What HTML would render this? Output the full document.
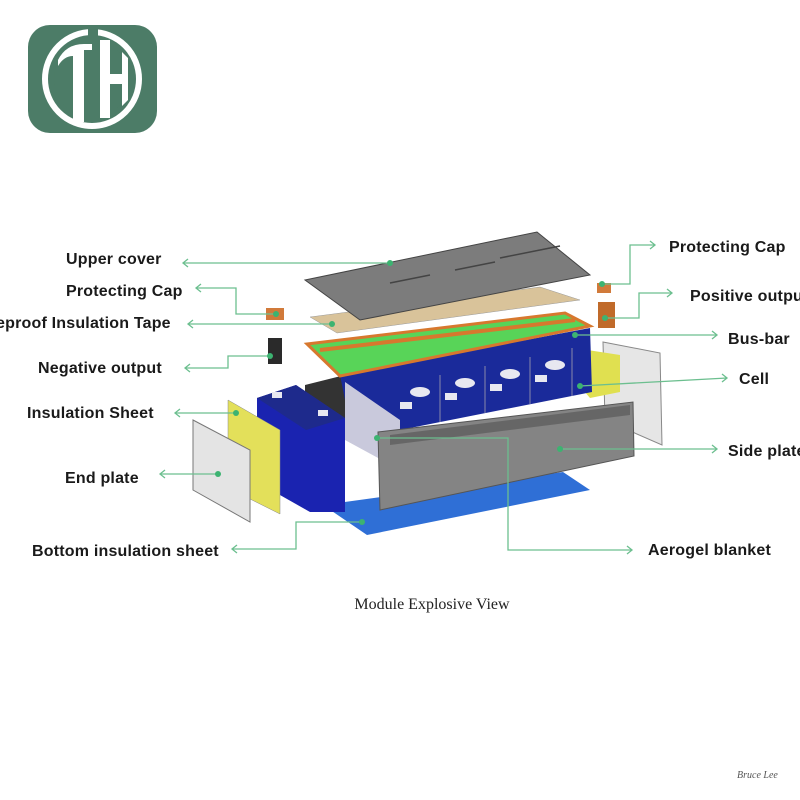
<!DOCTYPE html>
<html><head><meta charset="utf-8"><style>
body{margin:0;background:#fff;}
svg{display:block}
.l{font-family:"Liberation Sans",sans-serif;font-weight:bold;font-size:16px;letter-spacing:0.2px;fill:#1a1a1a}
.c{stroke:#6cbf8f;stroke-width:1.3;fill:none}
.d{fill:#3cb371}
</style></head><body>
<svg width="800" height="800" viewBox="0 0 800 800" xmlns="http://www.w3.org/2000/svg">
<rect width="800" height="800" fill="#fff"/>
<!-- logo -->
<rect x="28" y="25" width="129" height="108" rx="22" fill="#4c7c67"/>
<circle cx="92" cy="79" r="47" fill="none" stroke="#fff" stroke-width="6"/>
<circle cx="92" cy="79" r="38" fill="#4c7c67"/>
<rect x="88" y="28" width="10" height="12" fill="#4c7c67"/>
<path d="M58 60 Q66 44 84 44 L84 122 L73 122 L73 56 Q64 56 58 66 Z" fill="#fff"/>
<rect x="84" y="44" width="8" height="6" fill="#fff"/>
<path d="M100 40 L110 40 L110 74 L122 74 L122 52 L128 58 L128 100 L122 106 L122 84 L110 84 L110 118 L100 118 Z" fill="#fff"/>
<!-- right end plate -->
<polygon points="603,342 660,353 662,445 605,420" fill="#e6e6e6" stroke="#888"/>
<polygon points="568,347 620,355 620,392 590,398 568,372" fill="#e0e050"/>
<!-- blue bottom sheet -->
<polygon points="323,505 367,535 590,490 563,472" fill="#2f6fd6"/>
<!-- dark block behind -->
<polygon points="305,385 345,375 345,450 305,440" fill="#333"/>
<!-- cells -->
<polygon points="340,375 590,328 592,392 400,430 345,400" fill="#1a2a9a"/>
<g fill="#e8e8f0">
<ellipse cx="420" cy="392" rx="10" ry="5"/><ellipse cx="465" cy="383" rx="10" ry="5"/>
<ellipse cx="510" cy="374" rx="10" ry="5"/><ellipse cx="555" cy="365" rx="10" ry="5"/>
<rect x="400" y="402" width="12" height="7"/><rect x="445" y="393" width="12" height="7"/>
<rect x="490" y="384" width="12" height="7"/><rect x="535" y="375" width="12" height="7"/>
</g>
<g stroke="#8888aa" stroke-width="1">
<line x1="440" y1="375" x2="440" y2="422"/><line x1="485" y1="366" x2="485" y2="413"/>
<line x1="530" y1="357" x2="530" y2="404"/><line x1="572" y1="348" x2="572" y2="396"/>
</g>
<polygon points="345,382 400,420 400,470 345,440" fill="#c9c9dc"/>
<!-- busbar -->
<polygon points="307,344 565,313 590,326 340,376" fill="#58d458" stroke="#d7782e" stroke-width="3"/>
<line x1="320" y1="350" x2="575" y2="320" stroke="#d7782e" stroke-width="4"/>
<!-- tape -->
<polygon points="310,317 540,287 580,300 337,333" fill="#d9c39a" stroke="#999" stroke-width="0.5"/>
<!-- cover -->
<polygon points="305,280 537,232 590,275 360,320" fill="#7c7c7c" stroke="#444"/>
<g stroke="#444" stroke-width="1.5">
<line x1="390" y1="283" x2="430" y2="275"/><line x1="455" y1="270" x2="495" y2="262"/><line x1="500" y1="258" x2="560" y2="246"/>
</g>
<!-- side plate -->
<polygon points="378,432 633,402 634,456 380,510" fill="#848484" stroke="#555"/>
<polygon points="390,435 630,405 630,415 390,445" fill="#666"/>
<!-- front cell -->
<polygon points="257,398 296,385 345,418 345,512 310,512 257,482" fill="#1a23b0"/>
<polygon points="257,398 296,385 345,418 306,430" fill="#1e2a8c"/>
<rect x="272" y="392" width="10" height="6" fill="#e8e8f0"/><rect x="318" y="410" width="10" height="6" fill="#e8e8f0"/>
<!-- yellow sheet -->
<polygon points="228,400 280,430 280,514 228,488" fill="#e3e05a" stroke="#888" stroke-width="0.5"/>
<!-- end plate -->
<polygon points="193,420 250,450 250,522 193,490" fill="#e4e4e4" stroke="#777"/>
<!-- small parts -->
<rect x="266" y="308" width="18" height="12" fill="#d17a3a"/>
<rect x="268" y="338" width="14" height="26" fill="#2a2a2a"/>
<rect x="597" y="283" width="14" height="10" fill="#d17a3a"/>
<rect x="598" y="302" width="17" height="26" fill="#c06a2a"/>
<!-- connectors -->
<g class="c">
<path d="M390 263 H183"/><path d="M188 259 L183 263 L188 267"/>
<path d="M276 314 H236 V288 H196"/><path d="M201 284 L196 288 L201 292"/>
<path d="M332 324 H188"/><path d="M193 320 L188 324 L193 328"/>
<path d="M270 356 H228 V368 H185"/><path d="M190 364 L185 368 L190 372"/>
<path d="M236 413 H175"/><path d="M180 409 L175 413 L180 417"/>
<path d="M218 474 H160"/><path d="M165 470 L160 474 L165 478"/>
<path d="M362 522 H296 V549 H232"/><path d="M237 545 L232 549 L237 553"/>
<path d="M377 438 H508 V550 H632"/><path d="M627 546 L632 550 L627 554"/>
<path d="M560 449 H717"/><path d="M712 445 L717 449 L712 453"/>
<path d="M580 386 L727 378"/><path d="M722 374 L727 378 L722 382"/>
<path d="M575 335 H717"/><path d="M712 331 L717 335 L712 339"/>
<path d="M605 318 H639 V293 H672"/><path d="M667 289 L672 293 L667 297"/>
<path d="M602 284 H630 V245 H655"/><path d="M650 241 L655 245 L650 249"/>
</g>
<g class="d">
<circle cx="390" cy="263" r="3"/><circle cx="276" cy="314" r="3"/><circle cx="332" cy="324" r="3"/>
<circle cx="270" cy="356" r="3"/><circle cx="236" cy="413" r="3"/><circle cx="218" cy="474" r="3"/>
<circle cx="362" cy="522" r="3"/><circle cx="377" cy="438" r="3"/><circle cx="560" cy="449" r="3"/>
<circle cx="580" cy="386" r="3"/><circle cx="575" cy="335" r="3"/><circle cx="605" cy="318" r="3"/><circle cx="602" cy="284" r="3"/>
</g>
<!-- labels -->
<text class="l" x="66" y="264">Upper cover</text>
<text class="l" x="66" y="296">Protecting Cap</text>
<text class="l" x="-4" y="328">eproof Insulation Tape</text>
<text class="l" x="38" y="373">Negative output</text>
<text class="l" x="27" y="418">Insulation Sheet</text>
<text class="l" x="65" y="483">End plate</text>
<text class="l" x="32" y="556">Bottom insulation sheet</text>
<text class="l" x="669" y="252">Protecting Cap</text>
<text class="l" x="690" y="301">Positive output</text>
<text class="l" x="728" y="344">Bus-bar</text>
<text class="l" x="739" y="384">Cell</text>
<text class="l" x="728" y="456">Side plate</text>
<text class="l" x="648" y="555">Aerogel blanket</text>
<text x="432" y="609" text-anchor="middle" font-family="Liberation Serif,serif" font-size="16" fill="#222">Module Explosive View</text>
<text x="737" y="778" font-family="Liberation Serif,serif" font-style="italic" font-size="10" fill="#555">Bruce Lee</text>
</svg>
</body></html>
